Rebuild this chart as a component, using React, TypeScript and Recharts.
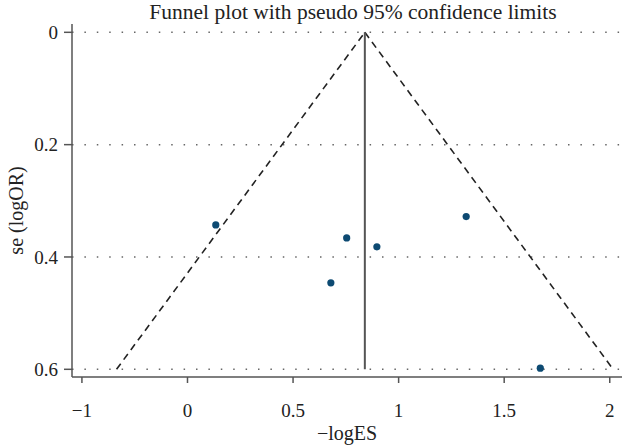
import React from 'react';
import {
    ScatterChart,
    Scatter,
    XAxis,
    YAxis,
    ReferenceLine,
} from 'recharts';

// studies: effect (-logES) and standard error (se of logOR)
const STUDY_ES = [0.134, 0.754, 0.897, 0.679, 1.32, 1.671];
const STUDY_SE = [0.343, 0.366, 0.382, 0.446, 0.328, 0.598];

// pooled estimate and pseudo 95% limits at the widest se
const POOLED = 0.84;
const FUNNEL_BASE_SE = 0.6;
const FUNNEL_LOWER = -0.336;
const FUNNEL_UPPER = 2.016;

const X_TICKS = [-0.5, 0, 0.5, 1, 1.5, 2];
const X_TICK_LABELS = ['\u22121', '0', '0.5', '1', '1.5', '2'];
const Y_TICKS = [0, 0.2, 0.4, 0.6];
const Y_TICK_LABELS = ['0', '0.2', '0.4', '0.6'];

const FONT = '"Liberation Serif", "DejaVu Serif", serif';
const AXIS_COLOR = '#555';

const points = STUDY_ES.map((es, i) => ({ es, se: STUDY_SE[i] }));

const YLabel = (props: any) => {
    const vb = props.viewBox || {};
    const cy = (vb.y || 0) + (vb.height || 0) / 2 + 10;
    return (
        <text
            x={23}
            y={cy}
            transform={`rotate(-90, 23, ${cy})`}
            textAnchor="middle"
            fontFamily={FONT}
            fontSize={20}
            fill="#222"
        >
            se (logOR)
        </text>
    );
};

export default function App() {
    return (
        <div style={{ position: 'absolute', left: 0, top: 0, width: 622, height: 446, background: '#fff' }}>
            <ScatterChart width={622} height={446} margin={{ top: 24, right: 0, left: 0, bottom: 0 }}>
                <text x={353} y={19} textAnchor="middle" fontFamily={FONT} fontSize={21.5} fill="#222">
                    Funnel plot with pseudo 95% confidence limits
                </text>
                <XAxis
                    type="number"
                    dataKey="es"
                    domain={[-0.547, 2.058]}
                    allowDataOverflow
                    ticks={X_TICKS}
                    tickFormatter={(v: number) => X_TICK_LABELS[X_TICKS.indexOf(v)] ?? String(v)}
                    height={69}
                    stroke={AXIS_COLOR}
                    strokeWidth={1.5}
                    tickSize={6}
                    tickMargin={21}
                    tick={{ fontFamily: FONT, fontSize: 19, fill: '#222' }}
                    label={{ value: '\u2212logES', position: 'insideBottom', offset: 6, fontFamily: FONT, fontSize: 20, fill: '#222' }}
                />
                <YAxis
                    type="number"
                    dataKey="se"
                    reversed
                    domain={[-0.0148, 0.6137]}
                    allowDataOverflow
                    ticks={Y_TICKS}
                    tickFormatter={(v: number) => Y_TICK_LABELS[Y_TICKS.indexOf(v)] ?? String(v)}
                    width={72}
                    stroke={AXIS_COLOR}
                    strokeWidth={1.5}
                    tickSize={8}
                    tickMargin={6}
                    tick={{ fontFamily: FONT, fontSize: 19, fill: '#222' }}
                    label={<YLabel />}
                />
                {Y_TICKS.map((t) => (
                    <ReferenceLine
                        key={t}
                        y={t}
                        stroke="#666"
                        strokeWidth={1.5}
                        strokeDasharray="1.5 10.9"
                    />
                ))}
                <ReferenceLine
                    segment={[{ x: FUNNEL_LOWER, y: FUNNEL_BASE_SE }, { x: POOLED, y: 0 }]}
                    stroke="#222"
                    strokeWidth={1.6}
                    strokeDasharray="7 5"
                />
                <ReferenceLine
                    segment={[{ x: POOLED, y: 0 }, { x: FUNNEL_UPPER, y: FUNNEL_BASE_SE }]}
                    stroke="#222"
                    strokeWidth={1.6}
                    strokeDasharray="7 5"
                />
                <ReferenceLine
                    segment={[{ x: POOLED, y: 0 }, { x: POOLED, y: FUNNEL_BASE_SE }]}
                    stroke="#555"
                    strokeWidth={2}
                />
                <Scatter
                    data={points}
                    fill="#0d4a72"
                    isAnimationActive={false}
                    shape={(p: any) => <circle cx={p.cx} cy={p.cy} r={3.6} fill="#0d4a72" />}
                />
            </ScatterChart>
        </div>
    );
}
